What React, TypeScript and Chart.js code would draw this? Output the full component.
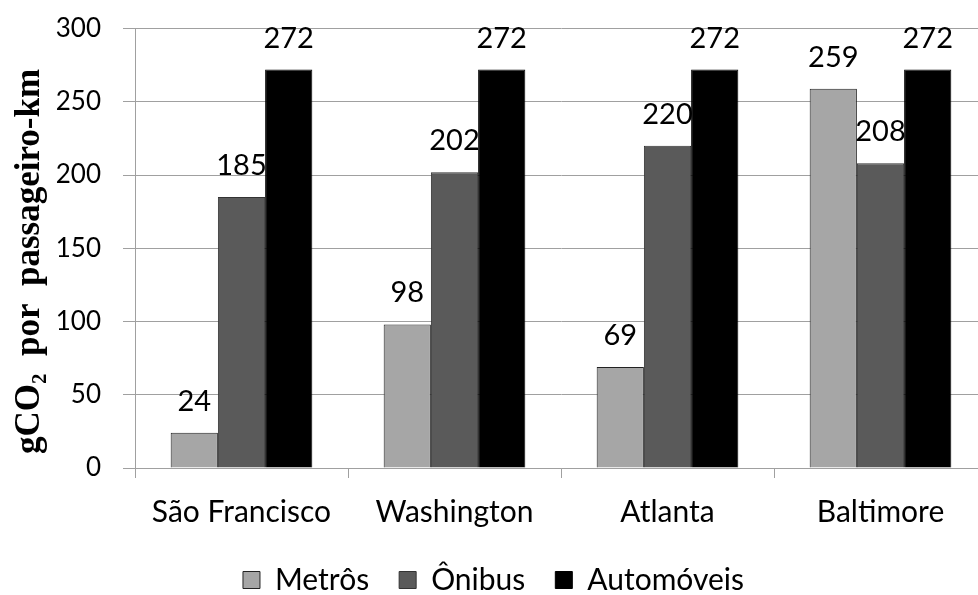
import React, { useEffect, useRef } from "react";
import { Chart, registerables } from "chart.js";

Chart.register(...registerables);

const categories = ["São Francisco", "Washington", "Atlanta", "Baltimore"];
const metros = [24, 98, 69, 259];
const onibus = [185, 202, 220, 208];
const automoveis = [272, 272, 272, 272];
const seriesNames = ["Metrôs", "Ônibus", "Automóveis"];
const yTitle = "gCO₂  por  passageiro-km   ";

const FONT = "Lato";
const GRID = "#a0a0a0";

const labelPlugin = {
  id: "valueLabels",
  afterDatasetsDraw(chart: any) {
    const ctx = chart.ctx;
    ctx.save();
    ctx.font = `29px ${FONT}`;
    ctx.fillStyle = "#000";
    ctx.textAlign = "center";
    ctx.textBaseline = "alphabetic";
    chart.data.datasets.forEach((ds: any, i: number) => {
      const meta = chart.getDatasetMeta(i);
      meta.data.forEach((bar: any, j: number) => {
        ctx.fillText(String(ds.data[j]), bar.x, bar.y - 22);
      });
    });
    ctx.restore();
  },
};

export default function App() {
  const ref = useRef<HTMLCanvasElement>(null);
  useEffect(() => {
    document.body.style.margin = "0";
    const chart = new Chart(ref.current!, {
      type: "bar",
      data: {
        labels: categories,
        datasets: [
          { label: seriesNames[0], data: metros, backgroundColor: "#a6a6a6", borderColor: "#222", borderWidth: 1 },
          { label: seriesNames[1], data: onibus, backgroundColor: "#5a5a5a", borderColor: "#333", borderWidth: 1 },
          { label: seriesNames[2], data: automoveis, backgroundColor: "#000000", borderColor: "#000", borderWidth: 1 },
        ],
      },
      options: {
        responsive: false,
        animation: false,
        devicePixelRatio: 1,
        layout: { padding: { top: 19, left: 0, right: 0, bottom: 0 } },
        datasets: { bar: { categoryPercentage: 0.665, barPercentage: 1 } },
        plugins: {
          legend: {
            position: "bottom",
            labels: {
              font: { family: FONT, size: 30 },
              color: "#000",
              boxWidth: 17,
              boxHeight: 17,
              padding: 30,
            },
          },
          tooltip: { enabled: false },
        },
        scales: {
          x: {
            grid: { offset: true, drawOnChartArea: false, color: GRID, tickLength: 10 },
            border: { color: GRID },
            ticks: { font: { family: FONT, size: 30 }, color: "#000", padding: 16 },
            afterFit: (s: any) => { s.height = 67; },
          },
          y: {
            min: 0,
            max: 300,
            ticks: { stepSize: 50, font: { family: FONT, size: 26 }, color: "#000", padding: 22 },
            grid: { color: GRID, tickLength: 12 },
            border: { color: GRID },
            title: {
              display: true,
              text: yTitle,
              font: { family: "Liberation Serif", size: 35, weight: "bold" },
              color: "#000",
              padding: { top: 9, bottom: 0 },
            },
            afterFit: (s: any) => { s.width = 135; },
          },
        },
      },
      plugins: [labelPlugin],
    } as any);
    return () => chart.destroy();
  }, []);
  return (
    <div style={{ position: "absolute", left: 0, top: 0, width: 978, height: 595, overflow: "hidden", background: "#fff" }}>
      <canvas ref={ref} width={987} height={614} style={{ display: "block", position: "absolute", left: 0, top: -9 }} />
    </div>
  );
}
